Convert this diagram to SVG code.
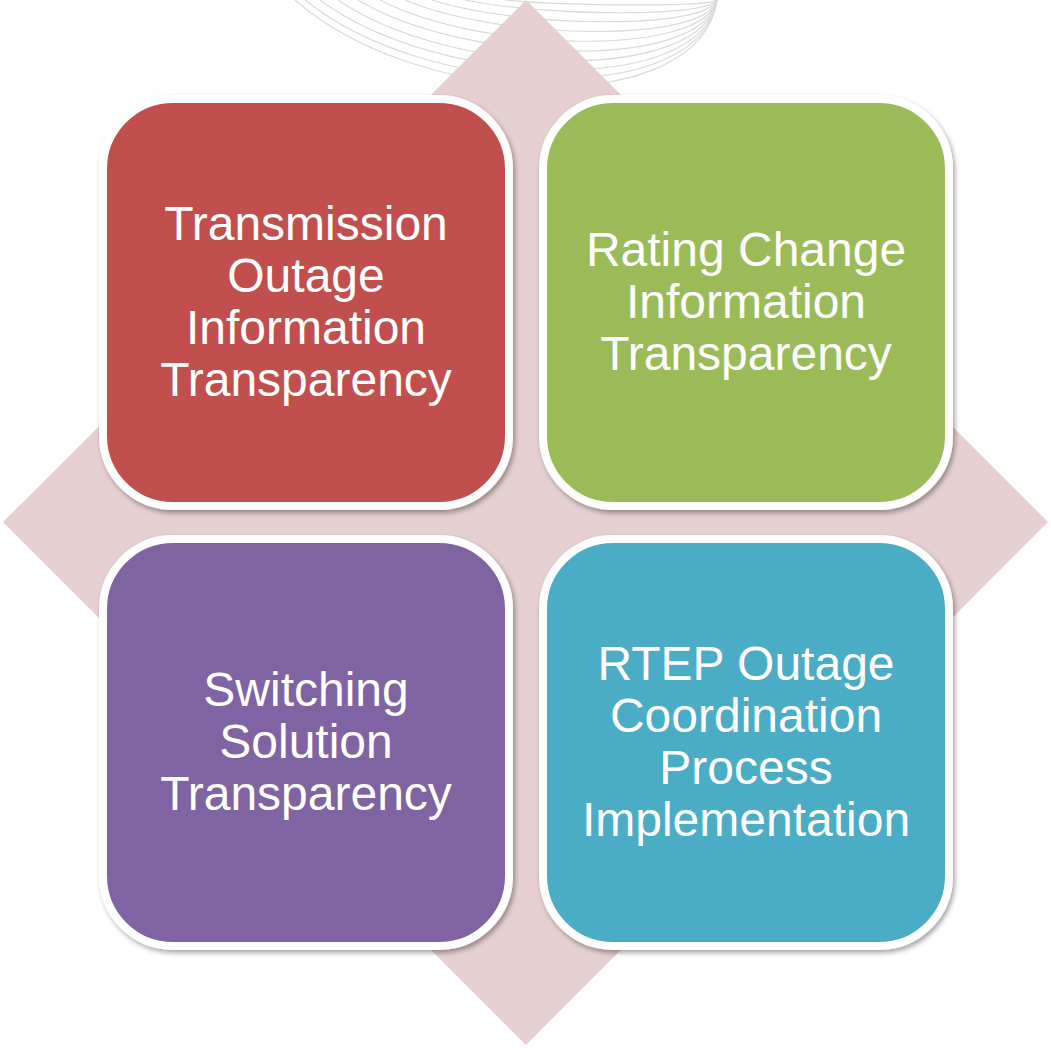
<svg xmlns="http://www.w3.org/2000/svg" width="1051" height="1048" viewBox="0 0 1051 1048">
  <defs>
    <filter id="shadow" x="-10%" y="-10%" width="120%" height="120%">
      <feDropShadow dx="2" dy="3" stdDeviation="2.5" flood-color="#000" flood-opacity="0.35"/>
    </filter>
    <style>
      .arc { fill: none; stroke: #dadada; stroke-width: 1.2; }
      .box { stroke: #ffffff; stroke-width: 8; filter: url(#shadow); }
      .label { font-family: "Liberation Sans", Arial, sans-serif; font-size: 48px; fill: #ffffff; text-anchor: middle; }
    </style>
  </defs>
  <rect width="1051" height="1048" fill="#ffffff"/>
  <g id="arcs">
    <path class="arc" d="M295,0 C421,110 700,120 717,0"/>
    <path class="arc" d="M305,0 C429,100 701,109 717,0"/>
    <path class="arc" d="M320,0 C440,89 702,97 717,0"/>
    <path class="arc" d="M338,0 C452,78 702,84 717,0"/>
    <path class="arc" d="M358,0 C466,65 703,71 717,0"/>
    <path class="arc" d="M380,0 C481,53 704,57 717,0"/>
    <path class="arc" d="M405,0 C499,40 705,44 717,0"/>
    <path class="arc" d="M432,0 C518,28 706,30 717,0"/>
    <path class="arc" d="M465,0 C541,16 707,18 717,0"/>
    <path class="arc" d="M505,0 C569,6 709,7 717,0"/>
  </g>
  <polygon id="diamond" points="526,0 1048,522 526,1045 3,522" fill="#e6cfd0"/>
  <g id="connectors"></g>
  <g id="node-transmission">
    <rect class="box" x="103" y="99" width="406" height="407" rx="70" fill="#c0504d"/>
    <text class="label" x="306" y="240">Transmission</text>
    <text class="label" x="306" y="292">Outage</text>
    <text class="label" x="306" y="344">Information</text>
    <text class="label" x="306" y="396">Transparency</text>
  </g>
  <g id="node-rating">
    <rect class="box" x="543" y="99" width="406" height="407" rx="70" fill="#9bbb59"/>
    <text class="label" x="746" y="266">Rating Change</text>
    <text class="label" x="746" y="318">Information</text>
    <text class="label" x="746" y="370">Transparency</text>
  </g>
  <g id="node-switching">
    <rect class="box" x="103" y="539" width="406" height="407" rx="70" fill="#8064a2"/>
    <text class="label" x="306" y="706">Switching</text>
    <text class="label" x="306" y="758">Solution</text>
    <text class="label" x="306" y="810">Transparency</text>
  </g>
  <g id="node-rtep">
    <rect class="box" x="543" y="539" width="406" height="407" rx="70" fill="#4bacc6"/>
    <text class="label" x="746" y="680">RTEP Outage</text>
    <text class="label" x="746" y="732">Coordination</text>
    <text class="label" x="746" y="784">Process</text>
    <text class="label" x="746" y="836">Implementation</text>
  </g>
</svg>
